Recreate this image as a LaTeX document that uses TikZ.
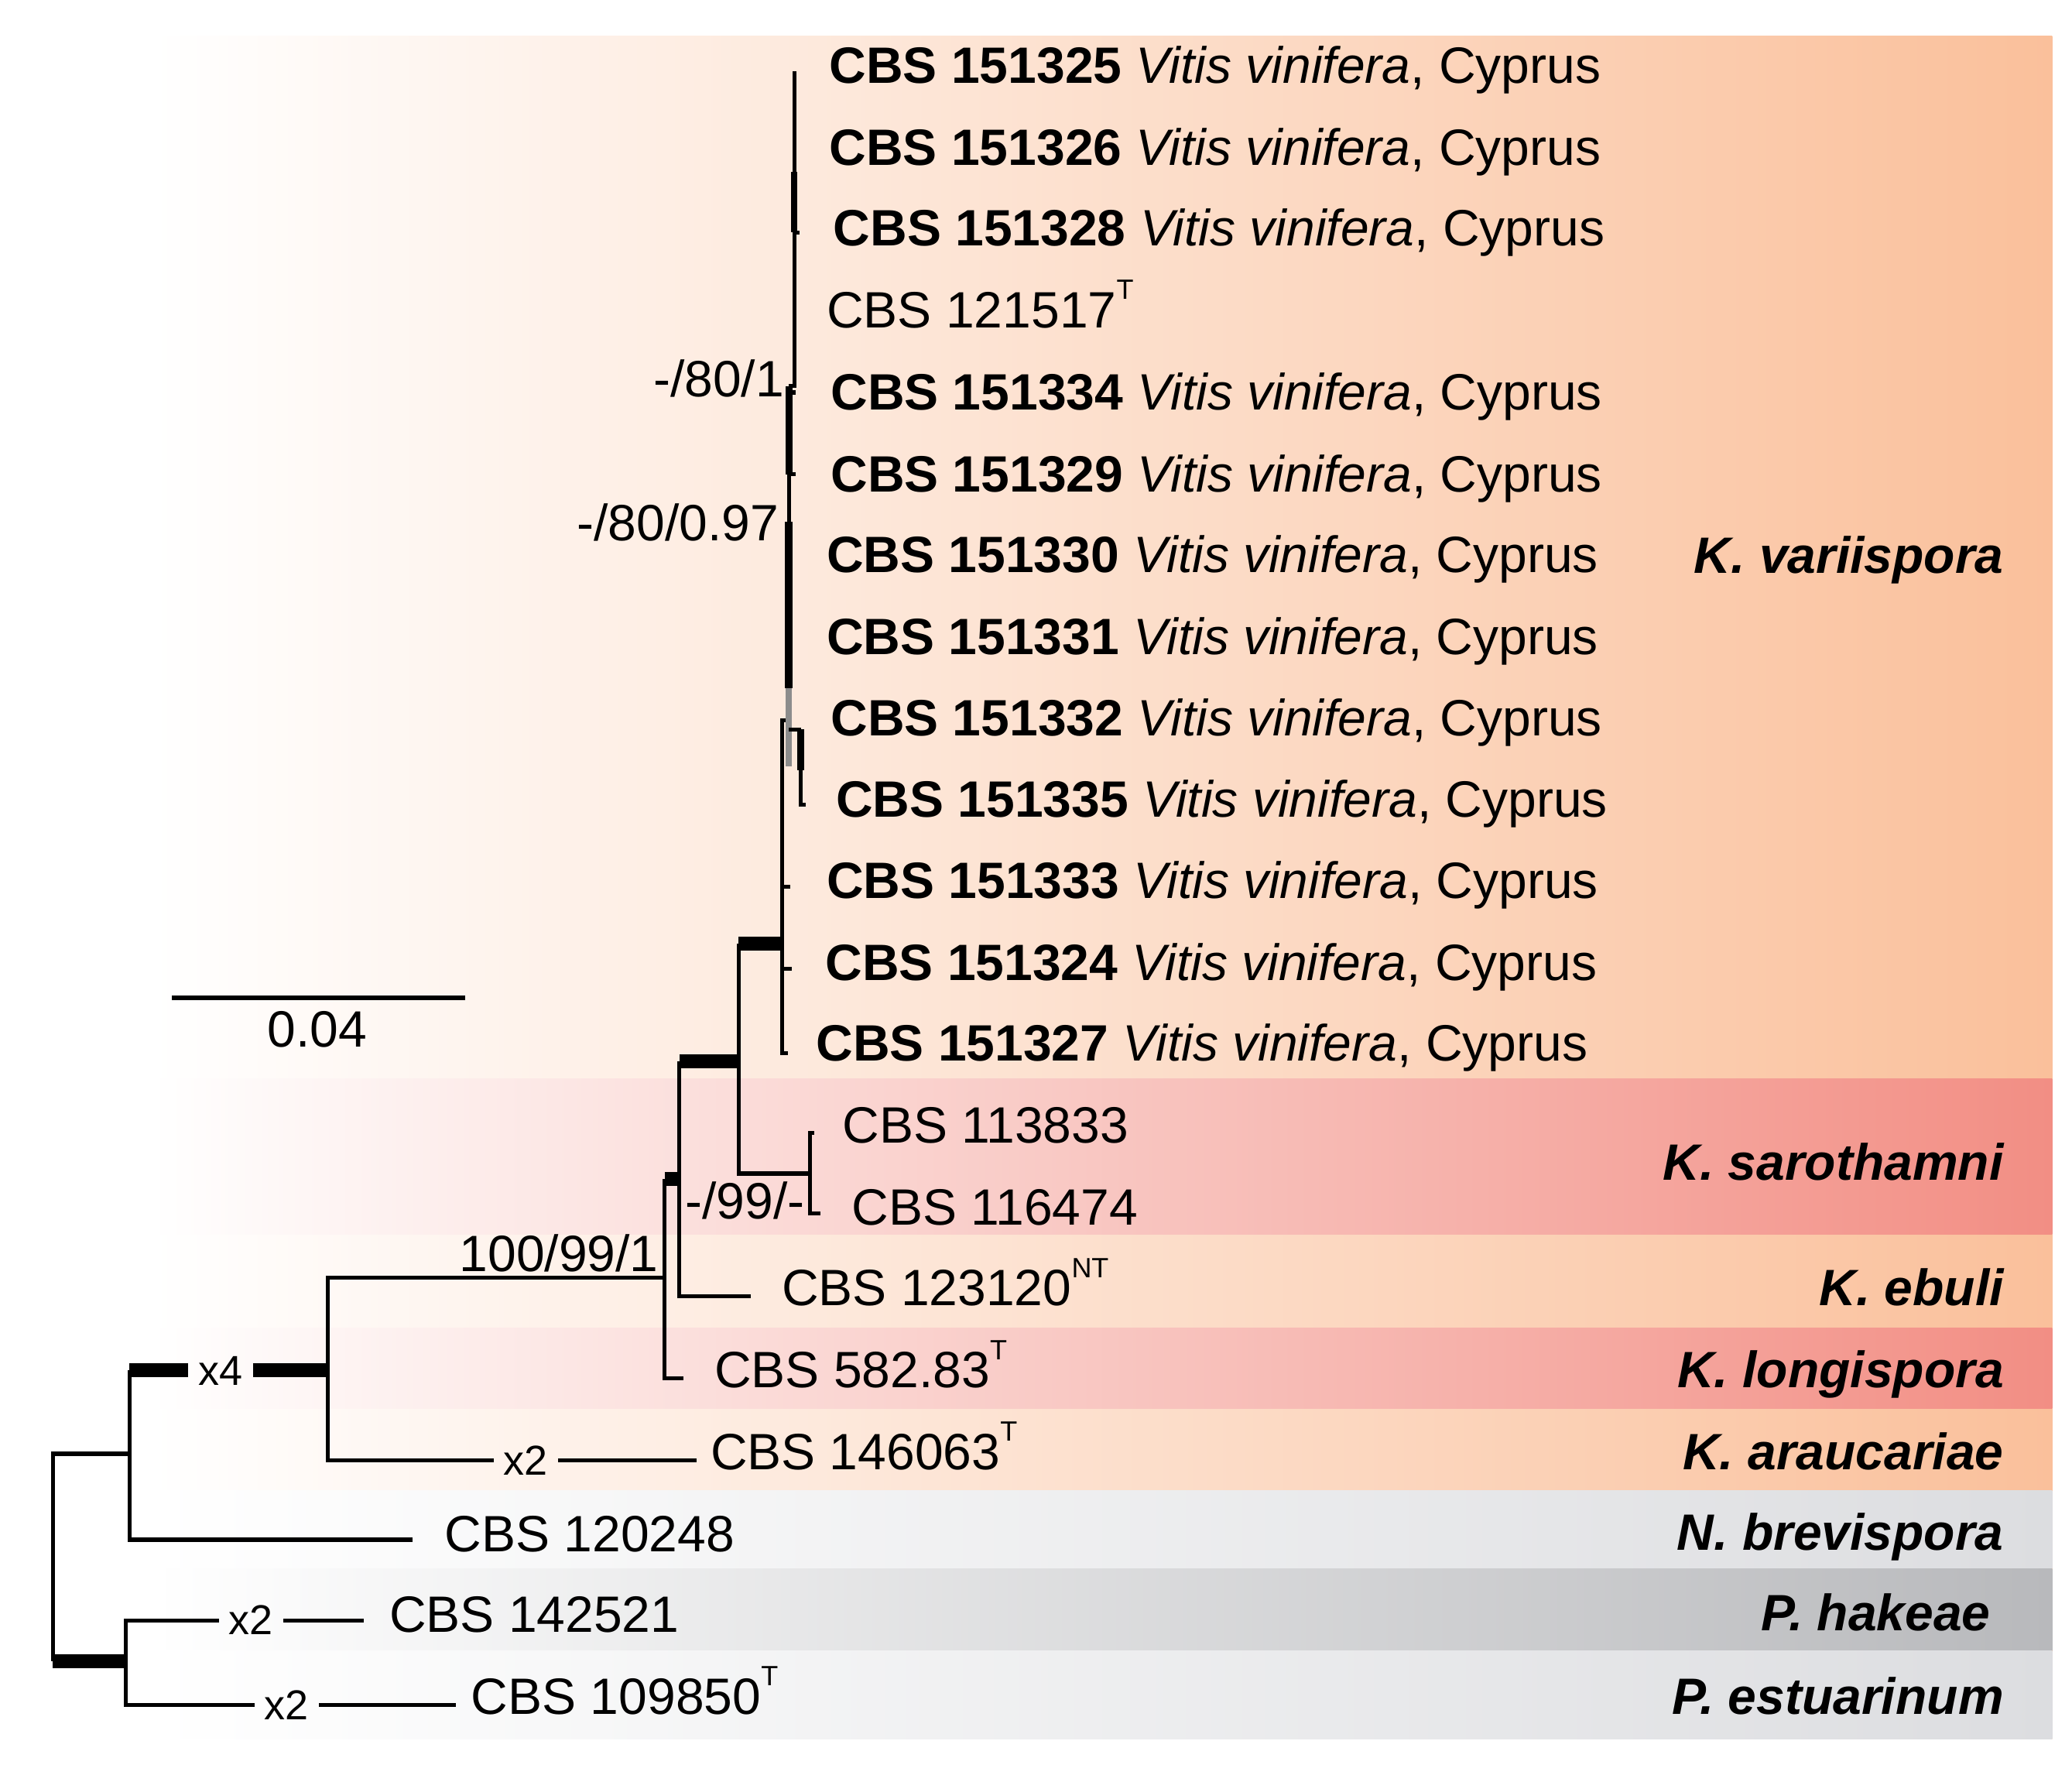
\documentclass[tikz,border=0pt]{standalone}
\usepackage{fontspec}
\setmainfont{Liberation Sans}
\usetikzlibrary{positioning}
\definecolor{peach}{RGB}{250,192,155}
\definecolor{rose}{RGB}{242,142,132}
\definecolor{lgray}{RGB}{220,221,224}
\definecolor{dgray}{RGB}{184,185,188}
\newcommand{\tsup}[1]{\raisebox{1.05ex}{\fontsize{6}{6}\selectfont #1}}
\newcommand{\vitis}[1]{\textbf{CBS #1} \textit{Vitis vinifera}, Cyprus}
\tikzset{every node/.style={inner sep=0pt,font=\fontsize{11}{13}\selectfont},
  br/.style={line width=0.85pt},thk/.style={line width=3pt},
  leaf/.style={anchor=base west},clade/.style={anchor=base east,font=\fontsize{11}{13}\selectfont\bfseries\itshape},
  supp/.style={anchor=base east},xlab/.style={font=\fontsize{9}{11}\selectfont,inner xsep=0.7mm}}
\begin{document}
\begin{tikzpicture}[x=0.1mm,y=-0.1mm]
\useasboundingbox (0,0) rectangle (1568,1348);
\shade[left color=white,right color=peach] (115,27) rectangle (1553,1316);
\shade[left color=white,right color=rose] (115,816) rectangle (1553,934);\shade[left color=white,right color=rose] (115,1005) rectangle (1553,1066);
\shade[left color=white,right color=lgray] (115,1128) rectangle (1553,1187);\shade[left color=white,right color=dgray] (115,1187) rectangle (1553,1249);
\shade[left color=white,right color=lgray] (115,1249) rectangle (1553,1316);
\node[leaf] (t1) at (627,63) {\vitis{151325}};\node[leaf] (t2) at (627,125) {\vitis{151326}};\node[leaf] (t3) at (630,186) {\vitis{151328}};
\node[leaf] (t4) at (625,248) {CBS 121517\tsup{T}};\node[leaf] (t5) at (628,310) {\vitis{151334}};\node[leaf] (t6) at (628,372) {\vitis{151329}};
\node[leaf] (t7) at (625,433) {\vitis{151330}};\node[leaf] (t8) at (625,495) {\vitis{151331}};\node[leaf] (t9) at (628,557) {\vitis{151332}};
\node[leaf] (t10) at (632,618) {\vitis{151335}};\node[leaf] (t11) at (625,680) {\vitis{151333}};\node[leaf] (t12) at (624,742) {\vitis{151324}};
\node[leaf] (t13) at (617,803) {\vitis{151327}};\node[leaf] (t14) at (637,865) {CBS 113833};\node[leaf] (t15) at (644,927) {CBS 116474};
\node[leaf] (t16) at (591,988) {CBS 123120\tsup{NT}};\node[leaf] (t17) at (540,1050) {CBS 582.83\tsup{T}};\node[leaf] (t18) at (537,1112) {CBS 146063\tsup{T}};
\node[leaf] (t19) at (336,1174) {CBS 120248};\node[leaf] (t20) at (294,1235) {CBS 142521};\node[leaf] (t21) at (356,1297) {CBS 109850\tsup{T}};
\node[clade] (variispora) at (1517,434) {K. variispora};\node[clade] (sarothamni) at (1517,893) {K. sarothamni};\node[clade] (ebuli) at (1517,988) {K. ebuli};
\node[clade] (longispora) at (1517,1050) {K. longispora};\node[clade] (araucariae) at (1517,1112) {K. araucariae};\node[clade] (brevispora) at (1517,1173) {N. brevispora};
\node[clade] (hakeae) at (1507,1234) {P. hakeae};\node[clade] (estuarinum) at (1517,1297) {P. estuarinum};
\coordinate (R) at (40,1181);\coordinate (A) at (98,1100);\coordinate (B) at (248,1037);\coordinate (C) at (503,967);\coordinate (D) at (514,892);
\coordinate (E) at (559,803);\coordinate (F) at (613,888);\coordinate (G) at (592,714);\coordinate (P) at (95,1257);
\coordinate (e14) at (616,857);\coordinate (e15) at (621,918);\coordinate (e16) at (568,981);\coordinate (e17) at (517,1043);\coordinate (e18) at (527,1105);
\coordinate (e19) at (312,1165);\coordinate (e20) at (275,1226);\coordinate (e21) at (345,1290);
\node[xlab] (x4) at (167,1037) {x4};\node[xlab] (x18) at (398,1105) {x2};\node[xlab] (x20) at (190,1226) {x2};\node[xlab] (x21) at (217,1290) {x2};
\draw[br] (R) |- (A);\draw[br] (R) -- (R|-P);\draw[thk] (R|-P) -- (P);\draw[br] (P) |- (x20);\draw[br] (x20) -- (e20);\draw[br] (P) |- (x21);\draw[br] (x21) -- (e21);
\draw[br] (A) -- (A|-B);\draw[thk] (A|-B) -- (x4);\draw[thk] (x4) -- (B);\draw[br] (A) |- (e19);
\draw[br] (B) -- (B|-C) -- (C);\draw[br] (B) |- (x18);\draw[br] (x18) -- (e18);
\draw[br] (C) -- (C|-D);\draw[thk] (C|-D) -- (D);\draw[br] (C) |- (e17);
\draw[br] (D) -- (D|-E);\draw[thk] (D|-E) -- (E);\draw[br] (D) |- (e16);
\draw[br] (E) -- (E|-G);\draw[thk] (E|-G) -- (G);\draw[br] (E) |- (F);\draw[br] (F) |- (e14);\draw[br] (F) |- (e15);
\coordinate (e11) at (598,671);\coordinate (e12) at (599,733);\coordinate (e13) at (596,797);\coordinate (H) at (597,545);
\coordinate (e1) at (601,54);\coordinate (e3) at (605,176);\coordinate (e5) at (602,297);\coordinate (e6) at (602,359);\coordinate (e10) at (610,609);
\coordinate (K) at (597,292);\coordinate (M) at (606,552);
\draw[br] (G) |- (e11);\draw[br] (G) |- (e12);\draw[br] (G) |- (e13);\draw[br] (G) |- (H);
\draw[line width=1.3pt,black!45] (597,521) -- (597,580);\draw[line width=1.6pt] (597,395) -- (597,521);\draw[br] (597,359) -- (597,395);
\draw[line width=1.5pt] (K) -- (597,359);\draw[br] (K|-e5) -- (e5);\draw[br] (K|-e6) -- (e6);\draw[br] (K) -- (e1|-K) -- (e1);
\draw[line width=1.3pt] (601,130) -- (601,176);\draw[br] (e1|-e3) -- (e3);
\draw[br] (H|-M) -- (M);\draw[line width=1.5pt] (M) -- (606,583);\draw[br] (606,583) |- (e10);
\coordinate (s0) at (130,755);\coordinate (s1) at (352,755);\draw[br] (s0) -- (s1);\node (scale) at (240,779) {0.04};
\node[supp] (b1) at (594,300) {-/80/1};\node[supp] (b2) at (590,409) {-/80/0.97};\node[supp] (b3) at (499,962) {100/99/1};\node[anchor=base west] (b4) at (518,922) {-/99/-};
\end{tikzpicture}
\end{document}
